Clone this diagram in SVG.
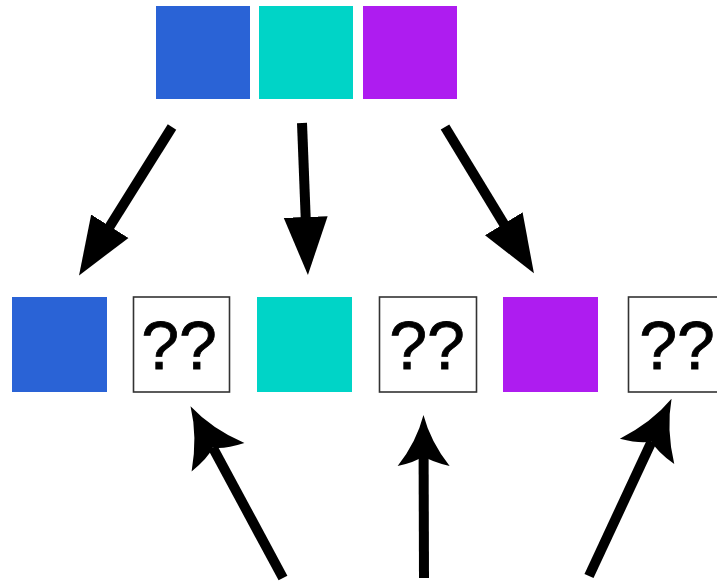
<svg xmlns="http://www.w3.org/2000/svg" width="717" height="586" viewBox="0 0 717 586">
<style>
.blue{fill:#2a63d6}
.teal{fill:#00d4c7}
.purple{fill:#ae1cf0}
.q{fill:#fff;stroke:#333;stroke-width:1.6}
.qt{font-family:"Liberation Sans",Arial,sans-serif;font-size:68px;fill:#000;text-anchor:middle;stroke:#000;stroke-width:0.8}
.shaft{stroke:#000;stroke-width:10;fill:none}
</style>
<defs>
<marker id="tri" markerUnits="userSpaceOnUse" viewBox="0 -24 62 48" refX="1" refY="0" markerWidth="62" markerHeight="48" orient="auto">
<path d="M0,-22 L58,0 L0,22 Z" fill="#000"/>
</marker>
<marker id="stealthL" markerUnits="userSpaceOnUse" viewBox="-2 -32 64 64" refX="11" refY="0" markerWidth="64" markerHeight="64" orient="auto">
<path d="M58,0 Q28,-8 0,-30 Q4,-9 11,0 Q4,9 0,30 Q28,8 58,0 Z" fill="#000"/>
</marker>
<marker id="stealthS" markerUnits="userSpaceOnUse" viewBox="-2 -28 56 56" refX="10" refY="0" markerWidth="56" markerHeight="56" orient="auto">
<path d="M51,0 Q24,-7 0,-26 Q4,-8 10,0 Q4,8 0,26 Q24,7 51,0 Z" fill="#000"/>
</marker>
</defs>
<g id="top-blue"><rect class="blue" x="156" y="6" width="94" height="93"/></g>
<g id="top-teal"><rect class="teal" x="259" y="6" width="94" height="93"/></g>
<g id="top-purple"><rect class="purple" x="363" y="6" width="94" height="93"/></g>
<g id="blue"><rect class="blue" x="12" y="297" width="95" height="95"/></g>
<g id="q1"><rect class="q" x="133.5" y="297" width="96" height="95"/><text class="qt" x="179" y="369">??</text></g>
<g id="teal"><rect class="teal" x="257" y="297" width="95" height="95"/></g>
<g id="q2"><rect class="q" x="379.5" y="297" width="97" height="95"/><text class="qt" x="427" y="369">??</text></g>
<g id="purple"><rect class="purple" x="503" y="297" width="95" height="95"/></g>
<g id="q3"><rect class="q" x="628.5" y="297" width="96" height="95"/><text class="qt" x="677" y="369">??</text></g>
<g id="connectors">
<line class="shaft" x1="172" y1="127" x2="109.3" y2="227.1" marker-end="url(#tri)"/>
<line class="shaft" x1="302" y1="123" x2="305.7" y2="218" marker-end="url(#tri)"/>
<line class="shaft" x1="445" y1="127" x2="504.3" y2="224.6" marker-end="url(#tri)"/>
<line class="shaft" x1="283" y1="578" x2="212.8" y2="447.6" marker-end="url(#stealthL)"/>
<line class="shaft" x1="424" y1="578" x2="423.6" y2="456" marker-end="url(#stealthS)"/>
<line class="shaft" x1="589" y1="576" x2="651.7" y2="441.4" marker-end="url(#stealthL)"/>
</g>
</svg>
